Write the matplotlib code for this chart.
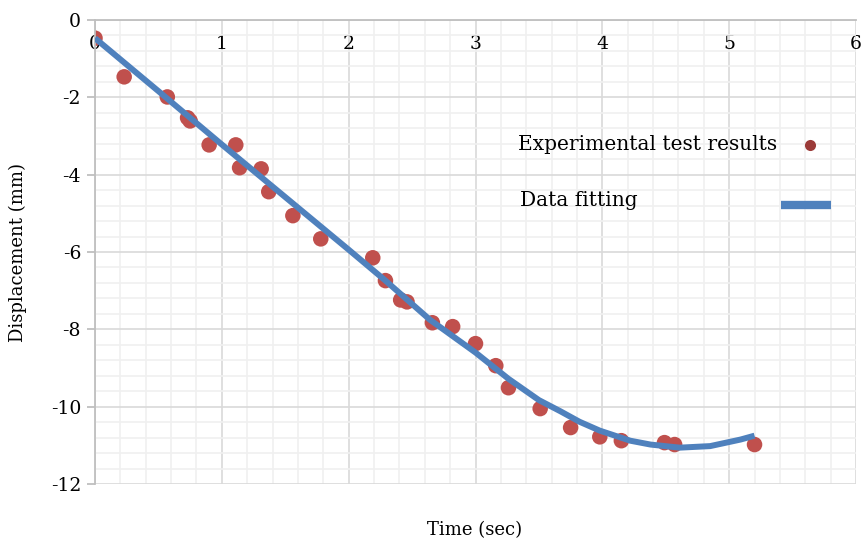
import matplotlib
matplotlib.use("Agg")
import matplotlib.pyplot as plt
import numpy as np
from matplotlib.ticker import MultipleLocator, FuncFormatter

# experimental test results (time in sec, displacement in mm)
t_exp = [0.00, 0.23, 0.57, 0.73, 0.75, 0.90, 1.11, 1.14, 1.31, 1.37,
         1.56, 1.78, 2.19, 2.29, 2.41, 2.46, 2.66, 2.82, 3.00, 3.16,
         3.26, 3.51, 3.75, 3.98, 4.15, 4.49, 4.57, 5.20]
d_exp = [-0.47, -1.47, -1.99, -2.53, -2.61, -3.23, -3.23, -3.82, -3.85, -4.44,
         -5.06, -5.66, -6.15, -6.74, -7.24, -7.29, -7.83, -7.93, -8.37, -8.94,
         -9.51, -10.05, -10.54, -10.78, -10.88, -10.93, -10.98, -10.98]

# fitted curve
t_fit = [0.00, 0.50, 1.00, 1.50, 2.00, 2.29, 2.64, 3.00, 3.26, 3.50, 3.67,
         3.82, 3.98, 4.22, 4.38, 4.61, 4.85, 5.09, 5.20]
d_fit = [-0.47, -1.84, -3.22, -4.58, -5.94, -6.74, -7.75, -8.60, -9.28, -9.83, -10.12,
         -10.39, -10.62, -10.88, -10.98, -11.06, -11.02, -10.85, -10.75]

label_exp = "Experimental test results"
label_fit = "Data fitting"

red = "#C0504D"
red_dark = "#9B3A38"
blue = "#4F81BD"

plt.rcParams['font.family'] = ['DejaVu Serif']

fig = plt.figure(figsize=(8.61, 5.40), dpi=100)
ax = fig.add_axes([95/861, 1 - 484/540, 761/861, 464/540])

# the fit line is drawn over the dots
ax.scatter(t_exp, d_exp, s=125, color=red, edgecolors='none', zorder=2)
ax.plot(t_fit, d_fit, color=blue, lw=4.3, solid_capstyle='butt',
        solid_joinstyle='round', zorder=3)

ax.set_xlim(0, 6)
ax.set_ylim(-12, 0)
ax.xaxis.set_major_locator(MultipleLocator(1))
ax.xaxis.set_minor_locator(MultipleLocator(0.2))
ax.yaxis.set_major_locator(MultipleLocator(2))
ax.yaxis.set_minor_locator(MultipleLocator(0.4))
ax.grid(which='major', color='#D9D9D9', lw=1.2, zorder=0)
ax.grid(which='minor', color='#F0F0F0', lw=1.2, zorder=0)
ax.set_axisbelow(True)

for s in ['right', 'bottom']:
    ax.spines[s].set_visible(False)
ax.spines['top'].set_color('#BFBFBF')
ax.spines['left'].set_color('#BFBFBF')
ax.spines['top'].set_linewidth(1.3)
ax.spines['left'].set_linewidth(1.3)

# x labels sit just under the zero line at the top
ax.xaxis.set_ticks_position('top')
ax.tick_params(axis='x', which='both', length=0, labeltop=True, labelbottom=False,
               pad=-24, labelsize=13.5)
ax.tick_params(axis='y', which='major', length=6, color='#BFBFBF', width=1.3,
               labelsize=13.5, pad=4)
ax.tick_params(axis='y', which='minor', length=0)
ax.yaxis.set_major_formatter(FuncFormatter(lambda v, p: f"{int(round(v))}"))

fig.text(475/861, 1 - 530/540, "Time (sec)", ha='center', va='center', fontsize=13)
fig.text(18/861, 1 - 252/540, "Displacement (mm)", ha='center', va='center',
         rotation=90, fontsize=13)

# legend drawn by hand: text on the left, symbol on the right
ax.text(0.556, 0.731, label_exp, transform=ax.transAxes, ha='left', va='center',
        fontsize=14.5)
ax.text(0.558, 0.612, label_fit, transform=ax.transAxes, ha='left', va='center',
        fontsize=14.5)
ax.plot([0.9396], [0.731], 'o', color=red_dark, ms=8, mec='none',
        transform=ax.transAxes, clip_on=False)
ax.plot([0.9015, 0.967], [0.601, 0.601], color=blue, lw=6,
        solid_capstyle='butt', transform=ax.transAxes, clip_on=False)

fig.savefig("out.png", dpi=100)
